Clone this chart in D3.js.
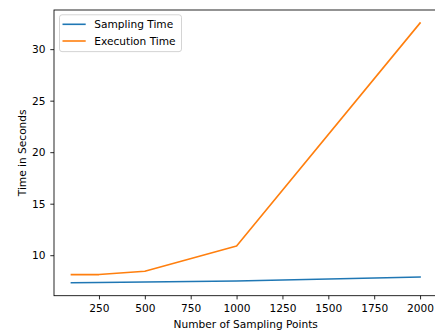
<!DOCTYPE html>
<html lang="en">
<head>
  <meta charset="UTF-8">
  <title>Sampling vs Execution Time</title>
  <script src="https://d3js.org/d3.v7.min.js"></script>
  <style>
    body { margin: 0; background: #fff; }
    svg { display: block; }
    text { font-family: "DejaVu Sans", sans-serif; font-size: 10.6px; fill: #000; }
    .tick line { stroke: #000; stroke-width: 0.85; }
  </style>
</head>
<body>
  <svg id="chart" width="435" height="332"></svg>
  <script>
    // data
    const points = [100, 250, 500, 1000, 2000];
    const samplingTime = [7.33, 7.35, 7.4, 7.5, 7.88];
    const executionTime = [8.12, 8.12, 8.45, 10.9, 32.54];
    const xTicks = [250, 500, 750, 1000, 1250, 1500, 1750, 2000];
    const yTicks = [10, 15, 20, 25, 30];

    const series = [
      { name: "Sampling Time", values: samplingTime, color: "#1f77b4" },
      { name: "Execution Time", values: executionTime, color: "#ff7f0e" }
    ];

    const m = { left: 54, top: 10, right: 437.5, bottom: 295.7 };
    const svg = d3.select("#chart");

    // matplotlib style 5% margins
    const xr = d3.extent(points);
    const xPad = (xr[1] - xr[0]) * 0.05;
    const yr = d3.extent(samplingTime.concat(executionTime));
    const yPad = (yr[1] - yr[0]) * 0.05;

    const x = d3.scaleLinear().domain([xr[0] - xPad, xr[1] + xPad]).range([m.left, m.right]);
    const y = d3.scaleLinear().domain([yr[0] - yPad, yr[1] + yPad]).range([m.bottom, m.top]);

    const line = d3.line()
      .x((d, i) => x(points[i]))
      .y(d => y(d));

    series.forEach(s => {
      svg.append("path")
        .datum(s.values)
        .attr("fill", "none")
        .attr("stroke", s.color)
        .attr("stroke-width", 1.6)
        .attr("stroke-linejoin", "round")
        .attr("stroke-linecap", "square")
        .attr("d", line);
    });

    // frame
    svg.append("rect")
      .attr("x", m.left).attr("y", m.top)
      .attr("width", m.right - m.left).attr("height", m.bottom - m.top)
      .attr("fill", "none").attr("stroke", "#000").attr("stroke-width", 0.85);

    const fmt = d3.format("d");

    svg.append("g")
      .attr("transform", `translate(0,${m.bottom})`)
      .call(d3.axisBottom(x).tickValues(xTicks).tickFormat(fmt).tickSize(3.7).tickPadding(5.4).tickSizeOuter(0))
      .call(g => g.attr("font-family", null).attr("font-size", null))
      .call(g => g.select(".domain").remove());

    svg.append("g")
      .attr("transform", `translate(${m.left},0)`)
      .call(d3.axisLeft(y).tickValues(yTicks).tickFormat(fmt).tickSize(3.7).tickPadding(4.8).tickSizeOuter(0))
      .call(g => g.attr("font-family", null).attr("font-size", null))
      .call(g => g.select(".domain").remove());

    svg.append("text")
      .attr("x", (m.left + m.right) / 2)
      .attr("y", 327.5)
      .attr("text-anchor", "middle")
      .text("Number of Sampling Points");

    svg.append("text")
      .attr("transform", `translate(25.8,${(m.top + m.bottom) / 2}) rotate(-90)`)
      .attr("text-anchor", "middle")
      .text("Time in Seconds");

    // legend
    const lg = svg.append("g").attr("transform", "translate(59.5,14.8)");
    lg.append("rect")
      .attr("width", 122).attr("height", 36.8)
      .attr("rx", 2.5)
      .attr("fill", "#fff").attr("fill-opacity", 0.8)
      .attr("stroke", "#ccc").attr("stroke-width", 0.85);
    series.forEach((s, i) => {
      const yy = 9.5 + i * 16.7;
      lg.append("line")
        .attr("x1", 3).attr("x2", 26.2)
        .attr("y1", yy).attr("y2", yy)
        .attr("stroke", s.color).attr("stroke-width", 1.6);
      lg.append("text")
        .attr("x", 34.8).attr("y", yy + 3.9)
        .text(s.name);
    });
  </script>
</body>
</html>
